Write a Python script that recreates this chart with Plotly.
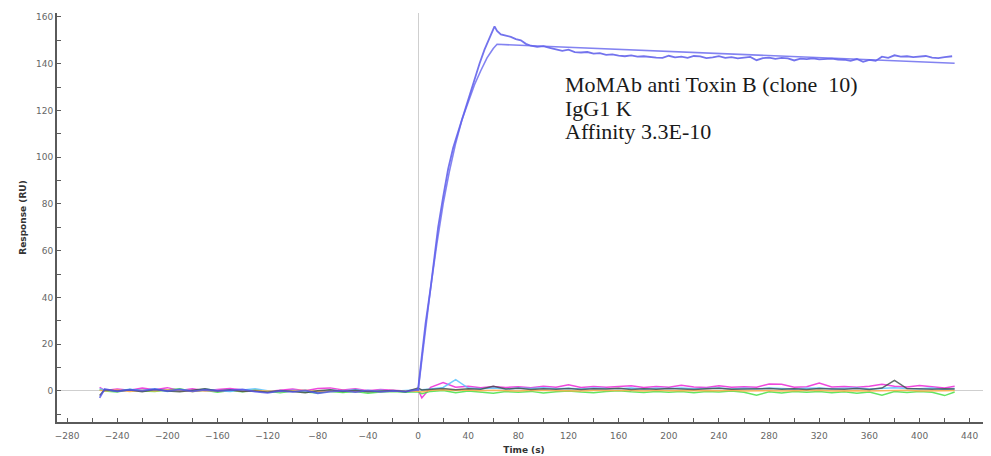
import plotly.graph_objects as go

# ---- time grid for baseline / reference-channel traces (s) ----
T_NOISE = [-254, -250, -240, -230, -220, -210, -200, -190, -180, -170, -160, -150, -140,
           -130, -120, -110, -100, -90, -80, -70, -60, -50, -40, -30, -20, -10, 0, 3,
           10, 20, 30, 40, 50, 60, 70, 80, 90, 100, 110, 120, 130, 140, 150, 160, 170,
           180, 190, 200, 210, 220, 230, 240, 250, 260, 270, 280, 290, 300, 310, 320,
           330, 340, 350, 360, 370, 380, 390, 400, 410, 420, 428]

MAGENTA = [1.5, 0.2, 0.8, 0.3, 1.2, 0.5, 1.4, 0.2, 0.9, 0.1, 0.6, 1.0, 0.4,
           0.2, -0.3, 0.3, 0.8, 0.1, 1.0, 1.3, 0.4, 0.9, 0.1, 0.6, 0.3, 0.0, 0.5, -3.0,
           1.5, 3.6, 1.6, 2.0, 1.4, 1.9, 1.5, 1.8, 1.4, 2.0, 1.6, 2.6, 1.5, 1.9, 1.6, 1.8, 2.2,
           1.5, 1.9, 1.6, 2.4, 1.7, 1.5, 2.2, 1.6, 1.8, 1.6, 3.0, 2.8, 1.6, 1.8, 3.4,
           1.7, 1.9, 1.6, 2.0, 2.9, 2.0, 1.7, 2.3, 1.8, 1.2, 2.0]

GREEN = [0.5, 0.0, -0.5, 0.6, 0.0, -0.3, 0.4, 0.9, -0.2, 0.3, -0.6, 0.2, -0.4,
         0.5, -0.2, -0.8, 0.0, -0.5, -0.9, -0.2, -0.7, -0.3, -1.0, -0.5, -0.2, -0.6, -0.4, -1.2,
         -0.2, 0.2, -0.8, 0.0, -0.5, -1.0, -0.3, -0.6, -0.2, -0.9, -0.4, 0.0, -0.5, -0.8, -0.3, 0.1, -0.4,
         -0.7, -0.2, -0.6, -0.3, -0.8, -0.2, -0.5, 0.0, -0.6, -1.8, -0.4, -0.9, -0.3, -0.6, -0.2,
         -0.8, -0.4, -1.0, -0.5, -1.8, -0.3, -0.7, -0.2, -0.6, -2.0, -0.5]

CYAN = [1.0, 0.3, 0.0, 0.7, 0.2, 0.9, -0.2, 0.5, 0.0, 0.8, 0.2, -0.3, 0.4,
        0.9, 0.1, -0.4, 0.3, 0.0, -0.5, 0.4, 0.0, 0.6, -0.2, 0.3, -0.1, 0.2, 0.3, 0.5,
        0.8, 1.5, 4.8, 1.2, 0.9, 1.3, 0.8, 1.2, 1.0, 1.4, 0.9, 1.1, 0.8, 1.3, 1.0, 0.9, 1.2,
        0.8, 1.1, 1.0, 1.3, 0.9, 1.0, 1.2, 0.8, 1.1, 0.9, 1.2, 1.0, 0.8, 1.1, 1.3,
        0.9, 1.0, 1.2, 0.8, 1.1, 1.4, 1.0, 0.9, 1.2, 0.6, 1.0]

ORANGE = [0.3, 0.0, 0.4, -0.2, 0.3, 0.0, 0.5, 0.1, -0.3, 0.2, 0.0, 0.4, -0.1,
          0.2, 0.0, -0.3, 0.1, 0.3, -0.2, 0.0, 0.2, -0.3, 0.0, -0.2, 0.1, -0.1, 0.0, -0.5,
          0.3, 0.5, 0.2, 0.4, 0.1, 0.3, 0.2, 0.0, 0.3, 0.2, 0.1, 0.3, 0.0, 0.2, 0.3, 0.1, 0.2,
          0.0, 0.3, 0.1, 0.2, 0.0, 0.2, 0.1, 0.3, 0.0, 0.2, 0.1, 0.0, 0.2, 0.1, 0.3,
          0.0, 0.2, 0.1, 0.0, 0.2, 0.1, 0.3, 0.0, 0.2, 0.1, 0.2]

DARK = [-2.0, 0.5, 0.0, 0.4, -0.3, 0.6, 0.0, -0.4, 0.3, 0.9, 0.0, 0.5, -0.2,
        0.0, -0.6, 0.2, -0.3, -0.8, 0.1, 0.5, -0.2, 0.3, -0.4, 0.0, 0.2, -0.3, 1.2, 0.4,
        0.6, 1.0, 0.5, 0.9, 0.7, 2.0, 0.8, 1.1, 0.6, 0.9, 0.7, 1.0, 0.6, 0.9, 0.8, 1.1, 0.6,
        0.9, 0.7, 1.0, 0.8, 0.6, 0.9, 1.1, 0.7, 0.8, 0.6, 1.0, 0.7, 0.9, 0.6, 1.0,
        0.8, 0.7, 1.0, 0.6, 1.2, 4.5, 1.0, 0.8, 0.7, 0.9, 0.8]

# ---- sensorgram of the antibody (measured) ----
T_SENSOR = [-254, -250, -240, -230, -220, -210, -200, -190, -180, -170, -160, -150, -140,
            -130, -120, -110, -100, -90, -80, -70, -60, -50, -40, -30, -20, -10, 0,
            3, 6, 10, 13, 16, 20, 24, 28, 32, 37, 41, 45, 49, 53, 57, 60, 61, 63, 66,
            70, 74, 78, 82, 86, 90, 95, 100, 105, 110, 115, 120, 125, 130, 135, 140, 145,
            150, 155, 160, 165, 170, 175, 180, 185, 190, 195, 200, 205, 210, 215, 220, 225,
            230, 235, 240, 245, 250, 255, 260, 265, 270, 275, 280, 285, 290, 295, 300, 305,
            310, 315, 320, 325, 330, 335, 340, 345, 350, 355, 360, 365, 370, 375, 380, 385,
            390, 395, 400, 405, 410, 415, 420, 426]
SENSOR = [-3.0, 0.8, -0.2, 0.5, 0.1, 0.7, 0.0, 0.6, -0.2, 0.4, 0.0, 0.3, 0.6,
          -0.3, -0.8, 0.0, -0.4, 0.2, -1.0, -0.3, 0.1, -0.5, 0.2, -0.4, 0.0, -0.3, 0.5,
          15, 29, 44, 56, 70, 83, 95, 104, 111, 119, 127, 134, 140, 146, 151, 155.5, 156, 154, 152.5,
          152.0, 151.5, 150.5, 150.0, 148.5, 147.7, 147.2, 147.5, 146.8, 146.3, 145.5, 146.0, 145.0, 144.8, 145.0, 144.3, 144.5,
          143.8, 144.0, 143.5, 143.2, 143.6, 143.0, 143.2, 142.8, 142.6, 142.5, 143.4, 142.7, 143.0, 142.5, 143.3, 143.1,
          142.4, 142.7, 143.2, 142.5, 142.8, 142.3, 142.6, 142.9, 141.5, 142.4, 142.6, 142.1, 142.5, 142.3, 141.4, 142.2,
          142.0, 142.3, 141.9, 142.1, 142.2, 141.8, 141.7, 141.2, 142.0, 140.8, 141.6, 141.2, 143.0, 142.5, 143.6, 143.0,
          143.2, 142.8, 143.0, 143.3, 142.6, 142.4, 142.8, 143.2]

# ---- 1:1 kinetic fit ----
T_FIT = [0, 5, 10, 15, 20, 25, 30, 35, 40, 45, 50, 55, 60, 63, 100, 200, 300, 428]
FIT = [0, 23, 44, 63, 80, 94, 106, 116, 124, 131, 137, 142.5, 146.5, 148.3, 147.5, 145.2, 142.9, 140.2]

NOTE_LINES = ["MoMAb anti Toxin B (clone  10)", "IgG1 K", "Affinity 3.3E-10"]
NOTE_Y = [131.2, 121.0, 111.0]

fig = go.Figure()

noise = [
    (MAGENTA, "rgba(235,40,215,0.85)"),
    (GREEN, "rgba(70,225,70,0.85)"),
    (CYAN, "rgba(90,195,255,0.85)"),
    (ORANGE, "rgba(255,175,70,0.85)"),
    (DARK, "rgba(60,75,70,0.8)"),
]
for vals, col in noise:
    fig.add_trace(go.Scatter(x=T_NOISE, y=vals, mode="lines",
                             line=dict(color=col, width=1.5), showlegend=False))

fig.add_trace(go.Scatter(x=T_SENSOR, y=SENSOR, mode="lines",
                         line=dict(color="rgba(80,80,232,0.8)", width=1.8), showlegend=False))
fig.add_trace(go.Scatter(x=T_FIT, y=FIT, mode="lines",
                         line=dict(color="rgba(100,100,238,0.8)", width=1.6), showlegend=False))

for txt, yy in zip(NOTE_LINES, NOTE_Y):
    fig.add_annotation(x=116, y=yy, xref="x", yref="y", text=txt, showarrow=False,
                       xanchor="left", yanchor="middle", align="left",
                       font=dict(family="Liberation Serif", size=22, color="#1a1a1a"))

axis_common = dict(showgrid=False, showline=True, linecolor="#5a5a5a", linewidth=2,
                   ticks="inside", ticklen=4, tickcolor="#5a5a5a", tickwidth=1,
                   zeroline=True, zerolinecolor="#cfcfcf", zerolinewidth=1,
                   automargin=False,
                   tickfont=dict(family="DejaVu Sans", size=9, color="#666"))

fig.update_xaxes(range=[-288, 457], dtick=40, tick0=0, ticklabelstandoff=4,
                 minor=dict(dtick=20, ticks="inside", ticklen=4, tickcolor="#5a5a5a"),
                 title=dict(text="<b>Time (s)</b>", standoff=7,
                            font=dict(family="DejaVu Sans", size=9, color="#333")),
                 **axis_common)
fig.update_yaxes(range=[-13.3, 161.7], dtick=20, tick0=0,
                 minor=dict(dtick=10, ticks="inside", ticklen=4, tickcolor="#5a5a5a"),
                 title=dict(text="<b>Response (RU)</b>", standoff=8,
                            font=dict(family="DejaVu Sans", size=9, color="#333")),
                 **axis_common)

# the page body has an 8px default margin, so the figure is sized to fill the rest
fig.update_layout(width=983, height=448, margin=dict(l=49, r=0, t=5, b=34),
                  plot_bgcolor="white", paper_bgcolor="white")

fig.write_html("out.html")
